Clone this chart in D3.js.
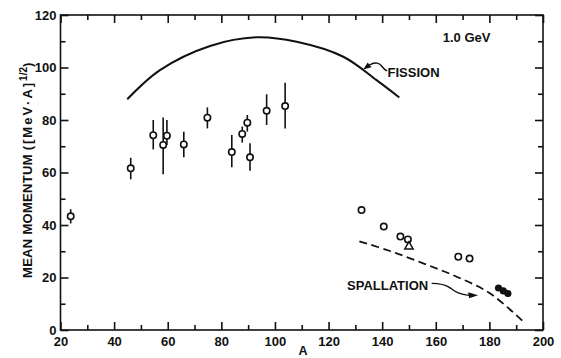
<!DOCTYPE html>
<html><head><meta charset="utf-8">
<script src="https://cdn.jsdelivr.net/npm/d3@7"></script>
<style>
body{margin:0;background:#fff;}
text{font-family:"Liberation Sans",Arial,sans-serif;font-weight:bold;fill:#111;}
</style></head>
<body><svg id="c" width="561" height="358"></svg>
<script>
// Data
const xMajorTicks = [20,40,60,80,100,120,140,160,180,200];
const xMinorTicks = [30,50,70,90,110,130,150,170,190];
const yMajorTicks = [0,20,40,60,80,100,120];
const yMinorTicks = [10,30,50,70,90,110];

// open circles with error bars: A, mean momentum, low, high
const barA    = [23.8, 46.2, 54.6, 58.3, 59.7, 66.0, 74.8, 83.9, 87.8, 89.7, 90.7, 96.9, 103.8];
const barV    = [43.3, 61.6, 74.2, 70.5, 74.0, 70.7, 80.9, 67.8, 74.7, 79.0, 65.8, 83.5, 85.3];
const barLo   = [40.6, 57.4, 68.8, 59.3, 70.5, 65.8, 76.8, 62.0, 71.4, 75.6, 60.7, 78.1, 76.8];
const barHi   = [46.0, 65.6, 80.0, 81.0, 80.0, 75.5, 84.8, 74.3, 77.5, 81.9, 71.1, 89.8, 94.2];

// open circles without error bars
const openA = [132.3, 140.6, 146.8, 149.6, 168.4, 172.6];
const openV = [45.7, 39.4, 35.6, 34.5, 27.9, 27.2];

// open triangle
const triA = [150.0];
const triV = [31.8];

// filled circles
const fillA = [183.4, 185.2, 186.9];
const fillV = [16.0, 14.9, 13.9];

// fission curve
const fissionA = [44.9, 57.1, 75.8, 93.2, 108.1, 125.5, 137.9, 146.4];
const fissionV = [87.9, 99.0, 108.2, 111.5, 109.8, 104.1, 95.2, 88.6];

// spallation curve (dashed)
const spallA = [131.5, 142.9, 155.3, 167.8, 180.2, 193.3];
const spallV = [33.8, 30.1, 25.4, 20.3, 14.0, 2.55];

const svg = d3.select("#c");
const x = d3.scaleLinear().domain([20,200]).range([60.5,543]);
const y = d3.scaleLinear().domain([0,120]).range([330,15]);

// frame
svg.append("rect").attr("x",x(20)).attr("y",y(120))
  .attr("width",x(200)-x(20)).attr("height",y(0)-y(120))
  .attr("fill","none").attr("stroke","#111").attr("stroke-width",1.6);

function styleAxis(g){
  g.select(".domain").remove();
  g.selectAll(".tick line").attr("stroke","#111").attr("stroke-width",1.6);
  g.selectAll("text").attr("font-size",13).attr("fill","#111");
}
const MAJ=8, MIN=5;
// bottom
svg.append("g").attr("transform",`translate(0,${y(0)})`)
  .call(d3.axisBottom(x).tickValues(xMajorTicks).tickSize(-MAJ).tickPadding(7).tickFormat(d3.format("d")))
  .call(styleAxis);
svg.append("g").attr("transform",`translate(0,${y(0)})`)
  .call(d3.axisBottom(x).tickValues(xMinorTicks).tickSize(-MIN).tickFormat(""))
  .call(styleAxis);
// top
svg.append("g").attr("transform",`translate(0,${y(120)})`)
  .call(d3.axisTop(x).tickValues(xMajorTicks).tickSize(-MAJ).tickFormat(""))
  .call(styleAxis);
svg.append("g").attr("transform",`translate(0,${y(120)})`)
  .call(d3.axisTop(x).tickValues(xMinorTicks).tickSize(-MIN).tickFormat(""))
  .call(styleAxis);
// left
svg.append("g").attr("transform",`translate(${x(20)},0)`)
  .call(d3.axisLeft(y).tickValues(yMajorTicks).tickSize(-MAJ).tickPadding(4).tickFormat(d3.format("d")))
  .call(styleAxis);
svg.append("g").attr("transform",`translate(${x(20)},0)`)
  .call(d3.axisLeft(y).tickValues(yMinorTicks).tickSize(-MIN).tickFormat(""))
  .call(styleAxis);
// right
svg.append("g").attr("transform",`translate(${x(200)},0)`)
  .call(d3.axisRight(y).tickValues(yMajorTicks).tickSize(-MAJ).tickFormat(""))
  .call(styleAxis);
svg.append("g").attr("transform",`translate(${x(200)},0)`)
  .call(d3.axisRight(y).tickValues(yMinorTicks).tickSize(-MIN).tickFormat(""))
  .call(styleAxis);

// axis titles
svg.append("text").attr("x",303).attr("y",355).attr("text-anchor","middle")
  .attr("font-size",12.5).text("A");
const yt = svg.append("text").attr("transform","translate(32,278) rotate(-90)")
  .attr("font-size",13);
yt.append("tspan").attr("letter-spacing","0.3").text("MEAN MOMENTUM  ");
yt.append("tspan").attr("letter-spacing","2").text("([MeV·A]");
yt.append("tspan").attr("font-size",10).attr("dy",-5).text("1/2");
yt.append("tspan").attr("dy",5).text(")");

// fission curve
const fission = fissionA.map((a,i)=>[a,fissionV[i]]);
svg.append("path").datum(fission)
  .attr("d",d3.line().x(d=>x(d[0])).y(d=>y(d[1])).curve(d3.curveCatmullRom))
  .attr("fill","none").attr("stroke","#111").attr("stroke-width",2);

// spallation curve
const spall = spallA.map((a,i)=>[a,spallV[i]]);
svg.append("path").datum(spall)
  .attr("d",d3.line().x(d=>x(d[0])).y(d=>y(d[1])).curve(d3.curveCatmullRom))
  .attr("fill","none").attr("stroke","#111").attr("stroke-width",1.8)
  .attr("stroke-dasharray","8,4.5");

// error bars
const bars = barA.map((a,i)=>({a, v:barV[i], lo:barLo[i], hi:barHi[i]}));
svg.append("g").selectAll("line").data(bars).join("line")
  .attr("x1",d=>x(d.a)).attr("x2",d=>x(d.a))
  .attr("y1",d=>y(d.lo)).attr("y2",d=>y(d.hi))
  .attr("stroke","#111").attr("stroke-width",1.6);
svg.append("g").selectAll("circle").data(bars).join("circle")
  .attr("cx",d=>x(d.a)).attr("cy",d=>y(d.v)).attr("r",3.2)
  .attr("fill","#fff").attr("stroke","#111").attr("stroke-width",1.6);

// open circles
const opens = openA.map((a,i)=>[a,openV[i]]);
svg.append("g").selectAll("circle").data(opens).join("circle")
  .attr("cx",d=>x(d[0])).attr("cy",d=>y(d[1])).attr("r",3.2)
  .attr("fill","#fff").attr("stroke","#111").attr("stroke-width",1.6);

// triangle
const tris = triA.map((a,i)=>[a,triV[i]]);
svg.append("g").selectAll("path").data(tris).join("path")
  .attr("transform",d=>`translate(${x(d[0])},${y(d[1])})`)
  .attr("d",d3.symbol(d3.symbolTriangle,30))
  .attr("fill","#fff").attr("stroke","#111").attr("stroke-width",1.5);

// filled circles
const fills = fillA.map((a,i)=>[a,fillV[i]]);
svg.append("g").selectAll("circle").data(fills).join("circle")
  .attr("cx",d=>x(d[0])).attr("cy",d=>y(d[1])).attr("r",3.6)
  .attr("fill","#111");

// labels
svg.append("text").attr("x",x(162.6)).attr("y",y(109.7)).attr("font-size",13).text("1.0 GeV");
svg.append("text").attr("x",x(142)).attr("y",y(96.2)).attr("font-size",13).text("FISSION");
svg.append("text").attr("x",x(126.9)).attr("y",y(15.2)).attr("font-size",13).text("SPALLATION");

// fission arrow (tip on curve)
const ft = [x(132.9), y(99.2)];
const fa = svg.append("g").attr("transform",`translate(${ft[0]},${ft[1]})`);
fa.append("path").attr("d","M24,1 C20,1 19,-6 14,-6.5 S8,-5 6,-4.5")
  .attr("fill","none").attr("stroke","#111").attr("stroke-width",1.4);
fa.append("path").attr("d","M0,0 L8.3,-2.4 L4.6,-7.2 Z").attr("fill","#111");

// spallation arrow
const st = [x(175.8), y(13.2)];
const sa = svg.append("g").attr("transform",`translate(${st[0]},${st[1]})`);
sa.append("path").attr("d","M-46.5,-12 C-38,-12 -33,-11 -28,-7.5 S-20,-1 -9,0")
  .attr("fill","none").attr("stroke","#111").attr("stroke-width",1.4);
sa.append("path").attr("d","M0,0 L-10,-3 L-9,3 Z").attr("fill","#111");
</script></body></html>
